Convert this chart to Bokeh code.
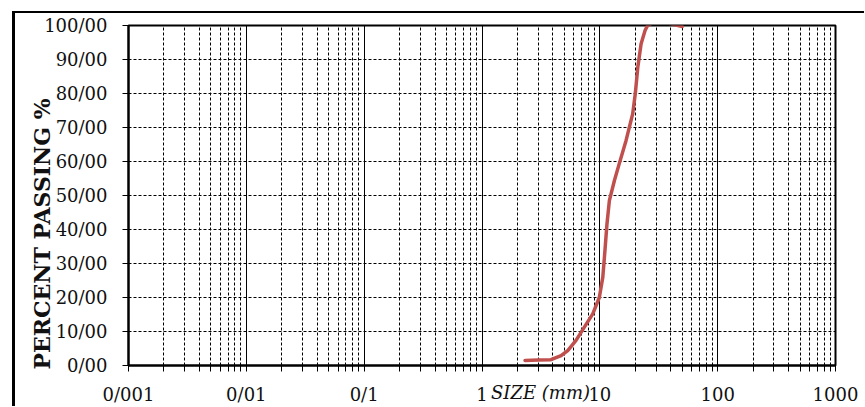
import numpy as np
from bokeh.plotting import figure
from bokeh.models import FixedTicker, CustomJSTickFormatter, Range1d
from bokeh.embed import file_html
from bokeh.resources import INLINE

# grain size distribution
size_mm = [2.32, 3.0, 3.85, 4.69, 5.34, 6.28, 7.39, 8.71, 9.9, 10.6, 11.05, 11.5,
           12.05, 13.3, 14.6, 16.7, 19.0, 20.0, 21.0, 22.4, 24.2, 25.4, 31.0, 40.0, 50.0]
percent_passing = [1.5, 1.6, 1.7, 2.9, 4.4, 7.4, 11.3, 15.2, 20.0, 26.0, 33.8, 41.7,
                   48.5, 54.4, 59.3, 66.2, 74.0, 80.0, 87.7, 94.6, 98.5, 100.0, 101.5, 100.5, 99.7]

x_tick_values = [0.001, 0.01, 0.1, 1, 10, 100, 1000]
x_tick_labels = ["0/001", "0/01", "0/1", "1", "10", "100", "1000"]
y_tick_values = [0, 10, 20, 30, 40, 50, 60, 70, 80, 90, 100]
y_tick_labels = ["0/00", "10/00", "20/00", "30/00", "40/00", "50/00",
                 "60/00", "70/00", "80/00", "90/00", "100/00"]
x_label = "SIZE (mm)"
y_label = "PERCENT PASSING %"

FONT = "DejaVu Serif"

p = figure(width=864, height=406, x_axis_type="log",
           x_range=Range1d(0.001, 1000), y_range=Range1d(0, 100),
           output_backend="svg", toolbar_location=None,
           background_fill_color="white", border_fill_color="white")
p.min_border_left = 128
p.min_border_right = 29
p.min_border_top = 25
p.min_border_bottom = 41

p.outline_line_color = "black"
p.outline_line_width = 2
p.outline_line_alpha = 1

minor_x = [m * 10.0 ** e for e in range(-3, 3) for m in range(2, 10)]
p.xaxis.ticker = FixedTicker(ticks=x_tick_values, minor_ticks=minor_x)
p.yaxis.ticker = FixedTicker(ticks=y_tick_values, minor_ticks=[])

p.xaxis.formatter = CustomJSTickFormatter(args=dict(vals=x_tick_values, labs=x_tick_labels), code="""
for (let i = 0; i < vals.length; i++) {
  if (Math.abs(Math.log10(tick) - Math.log10(vals[i])) < 1e-6) return labs[i];
}
return '';
""")
p.yaxis.formatter = CustomJSTickFormatter(args=dict(vals=y_tick_values, labs=y_tick_labels), code="""
for (let i = 0; i < vals.length; i++) {
  if (Math.abs(tick - vals[i]) < 1e-6) return labs[i];
}
return '';
""")

for ax in (p.xaxis[0], p.yaxis[0]):
    ax.axis_line_color = "black"
    ax.axis_line_width = 2
    ax.major_tick_line_color = "black"
    ax.minor_tick_line_color = "black"
    ax.major_tick_out = 6
    ax.major_tick_in = 0
    ax.minor_tick_in = 0
    ax.major_label_text_font = FONT
    ax.major_label_text_font_size = "18px"
    ax.major_label_text_color = "#111111"
    ax.axis_label_text_font = FONT
    ax.axis_label_text_color = "#111111"

p.xaxis.minor_tick_out = 6
p.yaxis.minor_tick_out = 0
p.xaxis.major_label_standoff = 12
p.yaxis.major_label_standoff = 15

# axis titles (padding spaces shift them off-centre as in the original)
p.xaxis.axis_label = "\u2003" * 6 + "\u2002" + x_label
p.xaxis.axis_label_text_font_style = "italic"
p.xaxis.axis_label_text_font_size = "18px"
p.xaxis.axis_label_standoff = -26

p.yaxis.axis_label = y_label + "\u2003" * 3 + "\u2002"
p.yaxis.axis_label_text_font_style = "bold"
p.yaxis.axis_label_text_font_size = "22px"
p.yaxis.axis_label_standoff = -14

# grid
p.xgrid.grid_line_color = "black"
p.xgrid.grid_line_width = 1
p.xgrid.minor_grid_line_color = "black"
p.xgrid.minor_grid_line_dash = "3 2"
p.xgrid.minor_grid_line_width = 1
p.ygrid.grid_line_color = "black"
p.ygrid.grid_line_dash = "3 2"
p.ygrid.grid_line_width = 1

p.line(size_mm, percent_passing, line_color="#C0504D", line_width=3.5,
       line_cap="round", line_join="round")

# outer chart border (cropped on right and bottom in the original)
p.stylesheets = [""":host::after {
  content: ""; position: absolute; left: 12px; top: 11px; right: 0; bottom: 0;
  border-left: 3px solid black; border-top: 2px solid black;
  pointer-events: none; z-index: 10; box-sizing: border-box;
}"""]

open("out.html", "w").write(file_html(p, INLINE))
